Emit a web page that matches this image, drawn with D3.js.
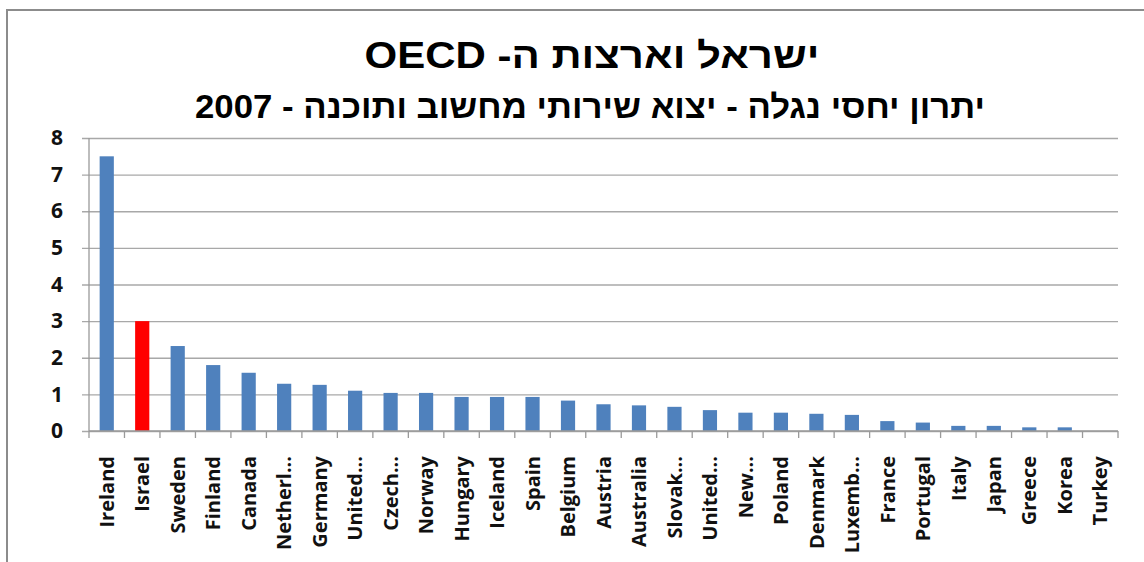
<!DOCTYPE html>
<html>
<head>
<meta charset="utf-8">
<script src="https://cdn.jsdelivr.net/npm/d3@7/dist/d3.min.js"></script>
<style>
  body { margin: 0; background: #fff; }
  svg { display: block; }
</style>
</head>
<body>
<svg id="chart"></svg>
<script>
// data
const categories = ["Ireland", "Israel", "Sweden", "Finland", "Canada", "Netherl...", "Germany",
  "United...", "Czech...", "Norway", "Hungary", "Iceland", "Spain", "Belgium", "Austria",
  "Australia", "Slovak...", "United...", "New...", "Poland", "Denmark", "Luxemb...", "France",
  "Portugal", "Italy", "Japan", "Greece", "Korea", "Turkey"];
const values = [7.5, 3.0, 2.32, 1.8, 1.59, 1.29, 1.26, 1.1, 1.04, 1.04, 0.93, 0.93, 0.93, 0.83,
  0.73, 0.7, 0.66, 0.57, 0.5, 0.5, 0.47, 0.44, 0.27, 0.23, 0.14, 0.14, 0.1, 0.1, 0];
const highlight = 1; // Israel
const yTicks = [0, 1, 2, 3, 4, 5, 6, 7, 8];
const title = "ישראל וארצות ה- OECD";
const subtitle = "יתרון יחסי נגלה - יצוא שירותי מחשוב ותוכנה - 2007";

const W = 1144, H = 562;
const plot = { left: 89, right: 1118, top: 138, bottom: 431 };

const svg = d3.select("#chart").attr("width", W).attr("height", H);

// outer frame
svg.append("rect")
  .attr("x", 7).attr("y", 10)
  .attr("width", W + 20).attr("height", H + 20)
  .attr("fill", "none").attr("stroke", "#8c8c8c").attr("stroke-width", 2);

// keys are indices since two labels read "United..."
const x = d3.scaleBand()
  .domain(d3.range(categories.length))
  .range([plot.left, plot.right])
  .paddingInner(0.6)
  .paddingOuter(0.3);

const y = d3.scaleLinear().domain([0, 8]).range([plot.bottom, plot.top]);

// gridlines + y labels
svg.append("g")
  .attr("transform", "translate(" + plot.left + ",0)")
  .call(d3.axisLeft(y).tickValues(yTicks).tickSize(-(plot.right - plot.left)).tickSizeOuter(0))
  .call(g => g.select(".domain").remove())
  .call(g => g.selectAll(".tick line").attr("stroke", "#a8a8a8").attr("stroke-width", 1.3)
    .attr("x1", -7))
  .call(g => g.selectAll(".tick text")
    .attr("x", -26)
    .attr("font-family", "'Open Sans', sans-serif")
    .attr("font-weight", "bold")
    .attr("font-size", 21)
    .attr("fill", "#111"));

// y axis line
svg.append("line")
  .attr("x1", plot.left).attr("x2", plot.left)
  .attr("y1", y(8)).attr("y2", y(0))
  .attr("stroke", "#9a9a9a").attr("stroke-width", 1.3);

// bars
svg.append("g").selectAll("rect")
  .data(values)
  .join("rect")
  .attr("x", (d, i) => x(i))
  .attr("y", d => y(d))
  .attr("width", x.bandwidth())
  .attr("height", d => y(0) - y(d))
  .attr("fill", (d, i) => i === highlight ? "#ff0000" : "#4f81bd");

// x axis line and category ticks
const step = x.step();
svg.append("line")
  .attr("x1", plot.left).attr("x2", plot.right)
  .attr("y1", y(0)).attr("y2", y(0))
  .attr("stroke", "#9a9a9a").attr("stroke-width", 1.3);

svg.append("g").selectAll("line")
  .data(d3.range(categories.length + 1))
  .join("line")
  .attr("x1", i => plot.left + i * step)
  .attr("x2", i => plot.left + i * step)
  .attr("y1", y(0)).attr("y2", y(0) + 7)
  .attr("stroke", "#9a9a9a").attr("stroke-width", 1.3);

// category labels
svg.append("g").selectAll("text")
  .data(categories)
  .join("text")
  .attr("transform", (d, i) => "translate(" + (x(i) + x.bandwidth() / 2) + "," + (y(0) + 25) + ") rotate(-90)")
  .attr("dy", "0.36em")
  .attr("text-anchor", "end")
  .attr("font-family", "'Open Sans', sans-serif")
  .attr("font-weight", "bold")
  .attr("font-size", 20)
  .attr("fill", "#111")
  .text(d => d);

// titles (stretched to the width they take in the original)
svg.append("text")
  .attr("x", 592).attr("y", 68)
  .attr("direction", "rtl")
  .attr("text-anchor", "middle")
  .attr("textLength", 455)
  .attr("lengthAdjust", "spacingAndGlyphs")
  .attr("font-family", "'Liberation Sans', Arial, sans-serif")
  .attr("font-weight", "bold")
  .attr("font-size", 36)
  .attr("fill", "#000")
  .text(title);

svg.append("text")
  .attr("x", 590).attr("y", 118)
  .attr("direction", "rtl")
  .attr("text-anchor", "middle")
  .attr("textLength", 790)
  .attr("lengthAdjust", "spacingAndGlyphs")
  .attr("font-family", "'Liberation Sans', Arial, sans-serif")
  .attr("font-weight", "bold")
  .attr("font-size", 33)
  .attr("fill", "#000")
  .text(subtitle);
</script>
</body>
</html>
